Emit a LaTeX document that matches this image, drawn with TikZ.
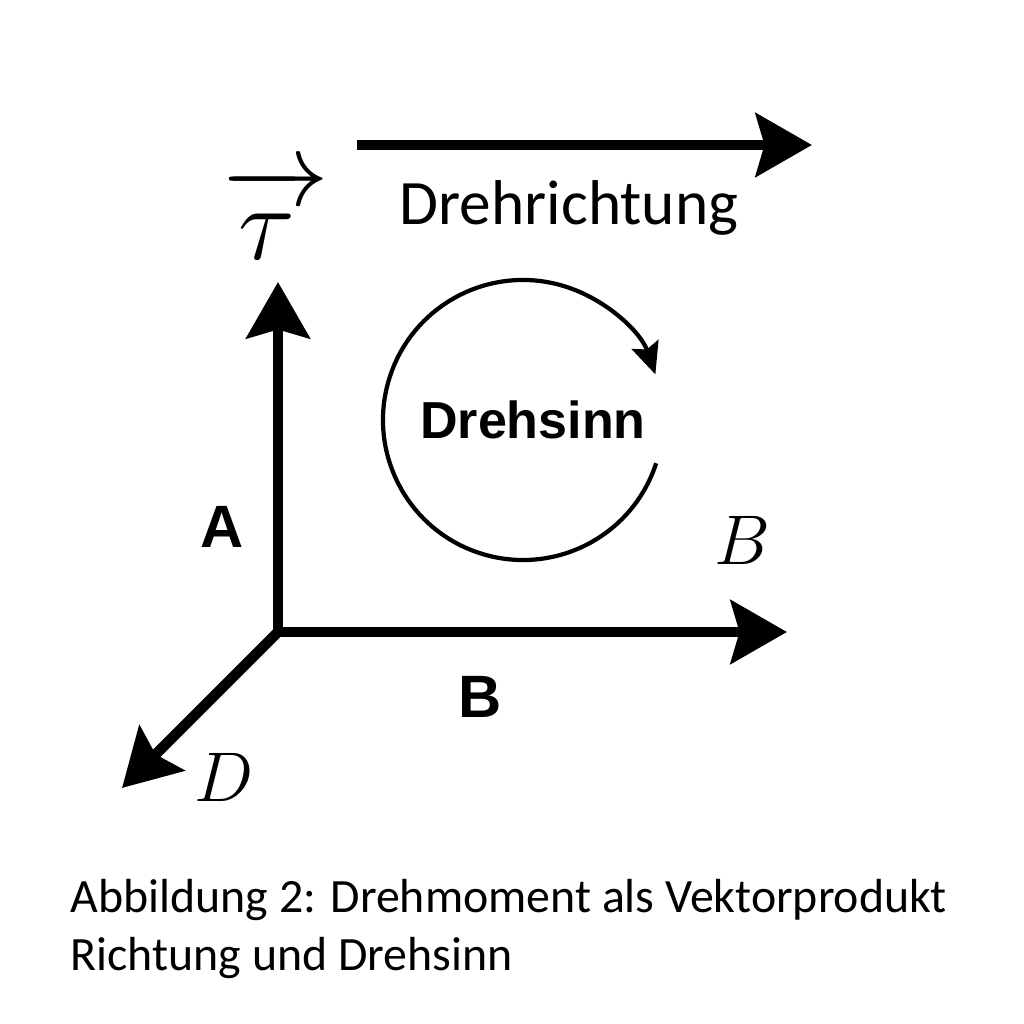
\RequirePackage{fix-cm}
\documentclass[tikz,border=0pt]{standalone}
\usepackage{amsmath}
\usepackage{fontspec}
\newfontfamily\calibrifont{Carlito}
\newfontfamily\arialfont{Liberation Sans}
\usetikzlibrary{arrows.meta,positioning}

\begin{document}
\begin{tikzpicture}[x=0.01cm, y=0.01cm,
  vec/.style={line width=3pt, -{Stealth[length=16pt, width=18pt, inset=2.5pt]}},
  turn/.style={line width=1.2pt, -{Stealth[length=9pt, width=8pt, inset=1.5pt]}},
  slbl/.style={font=\arialfont\bfseries\fontsize{17}{20}\selectfont, inner sep=0pt},
  mlbl/.style={font=\fontsize{20}{24}\selectfont, inner sep=0pt},
  captxt/.style={font=\calibrifont\fontsize{13.6}{16}\selectfont, inner sep=0pt, anchor=base west}]
  \useasboundingbox (0,0) rectangle (1024,1024);
  {
  \coordinate (orig) at (278,392);
  \coordinate (tipA) at (278,742);
  \coordinate (tipB) at (787,392);
  \coordinate (tipD) at (122,236);
  \coordinate (rstart) at (357,879);
  \coordinate (rend) at (812,879);
  \coordinate (sinncenter) at (523,604);

  \node[font=\calibrifont\fontsize{18}{22}\selectfont, inner sep=0pt, anchor=base] (richt) at (569,799) {Drehrichtung};
  \node[mlbl, font=\fontsize{30}{36}\selectfont, anchor=base] (tau) at (276,764) {$\overrightarrow{\rule{0pt}{0.52em}\tau\,}$};
  \node[slbl] (labA) at (222,497) {A};
  \node[slbl] (labB) at (480,327) {B};
  \node[mlbl] (vecB) at (742,484) {$B$};
  \node[mlbl] (vecD) at (224,247) {$D$};
  \node[slbl, font=\arialfont\bfseries\fontsize{14.8}{18}\selectfont] (sinn) at (533,604) {Drehsinn};

  \draw[vec] (rstart) -- (rend);
  \draw[vec] (orig) -- (tipA);
  \draw[vec] ([xshift=-1.5pt]orig) -- (tipB);
  \draw[vec] (orig) -- (tipD);
  \draw[turn] ([shift={(-18:140)}]sinncenter) arc[start angle=-18, end angle=-341, radius=140];

  \node[captxt] (cap1) at (70,111) {Abbildung 2: Drehmoment als Vektorprodukt};
  \node[captxt] (cap2) at (70,54) {Richtung und Drehsinn};
  }
\end{tikzpicture}
\end{document}
